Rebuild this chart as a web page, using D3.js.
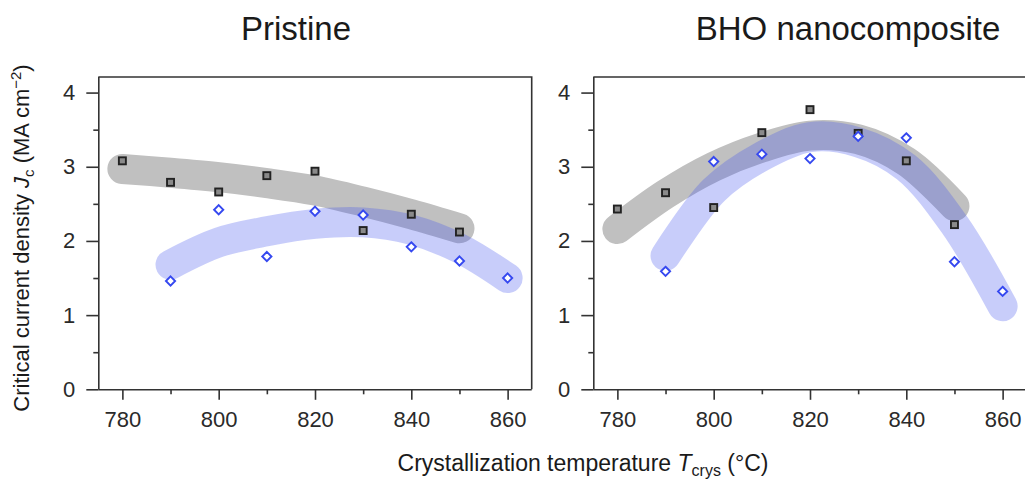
<!DOCTYPE html>
<html>
<head>
<meta charset="utf-8">
<script src="https://cdn.jsdelivr.net/npm/d3@7"></script>
<style>
  html, body { margin: 0; padding: 0; background: #fff; }
  svg { display: block; font-family: "Liberation Sans", Arial, Helvetica, sans-serif; }
</style>
</head>
<body>
<svg id="chart" width="1025" height="481"></svg>
<script>
// Crystallization temperatures (°C)
const tempsSquare = [780, 790, 800, 810, 820, 830, 840, 850];
const tempsDiamond = [790, 800, 810, 820, 830, 840, 850, 860];

// Pristine films: Jc (MA cm^-2)
const pristineSquares = [3.08, 2.79, 2.66, 2.88, 2.94, 2.14, 2.36, 2.12];
const pristineDiamonds = [1.46, 2.42, 1.79, 2.40, 2.35, 1.92, 1.73, 1.50];
// Guide-to-the-eye trends for the pristine films
const pristineTrendGray = [2.97, 2.92, 2.86, 2.78, 2.68, 2.53, 2.36, 2.17];
const pristineTrendBlue = [1.68, 1.98, 2.13, 2.23, 2.25, 2.15, 1.90, 1.50];

// BHO nanocomposite films: Jc (MA cm^-2)
const bhoSquares = [2.43, 2.65, 2.45, 3.46, 3.77, 3.45, 3.08, 2.22];
const bhoDiamonds = [1.59, 3.07, 3.17, 3.11, 3.41, 3.39, 1.72, 1.32];
// Guide-to-the-eye trends for the nanocomposite films
const bhoTrendGray = [2.16, 2.63, 3.00, 3.26, 3.42, 3.37, 3.07, 2.47];
const bhoTrendBlue = [1.80, 2.68, 3.14, 3.40, 3.33, 2.99, 2.22, 1.12];

const panelTitles = ["Pristine", "BHO nanocomposite"];
const xMajorTicks = [780, 800, 820, 840, 860];
const xMinorTicks = [790, 810, 830, 850];
const yMajorTicks = [0, 1, 2, 3, 4];
const yMinorTicks = [0.5, 1.5, 2.5, 3.5];

const svg = d3.select("#chart");
const axisColor = "#333";
const textColor = "#1a1a1a";

const plotTop = 77, plotBottom = 389.3, panelWidth = 433.4;
const panelLefts = [98.3, 593.3];

const y = d3.scaleLinear().domain([0, 4.21]).range([plotBottom, plotTop]);

const panels = [
  { title: panelTitles[0], squares: pristineSquares, diamonds: pristineDiamonds,
    gray: pristineTrendGray, blue: pristineTrendBlue },
  { title: panelTitles[1], squares: bhoSquares, diamonds: bhoDiamonds,
    gray: bhoTrendGray, blue: bhoTrendBlue }
];

panels.forEach((p, i) => {
  const left = panelLefts[i];
  const x = d3.scaleLinear().domain([775, 865]).range([left, left + panelWidth]);
  const g = svg.append("g");

  const line = d3.line().x(d => x(d[0])).y(d => y(d[1])).curve(d3.curveCatmullRom.alpha(0.5));

  // broad trend bands
  g.append("path")
    .datum(tempsSquare.map((t, k) => [t, p.gray[k]]))
    .attr("d", line)
    .attr("fill", "none")
    .attr("stroke", "#c0c0c0")
    .attr("stroke-width", 30)
    .attr("stroke-linecap", "round")
    .attr("stroke-linejoin", "round");

  g.append("path")
    .datum(tempsDiamond.map((t, k) => [t, p.blue[k]]))
    .attr("d", line)
    .attr("fill", "none")
    .attr("stroke", "rgb(65,83,238)")
    .attr("stroke-opacity", 0.29)
    .attr("stroke-width", 30)
    .attr("stroke-linecap", "round")
    .attr("stroke-linejoin", "round");

  // frame (top and right edges)
  g.append("path")
    .attr("d", `M${left},${plotTop}H${left + panelWidth}V${plotBottom}`)
    .attr("fill", "none")
    .attr("stroke", axisColor)
    .attr("stroke-width", 1.6);

  // y axis
  const yAxis = g.append("g").attr("transform", `translate(${left},0)`)
    .call(d3.axisLeft(y).tickValues(yMajorTicks).tickSize(12).tickPadding(11).tickFormat(d3.format("d")));
  g.append("g").attr("transform", `translate(${left},0)`)
    .call(d3.axisLeft(y).tickValues(yMinorTicks).tickSize(5).tickFormat(""))
    .call(s => s.select(".domain").remove());

  // x axis
  const xAxis = g.append("g").attr("transform", `translate(0,${plotBottom})`)
    .call(d3.axisBottom(x).tickValues(xMajorTicks).tickSize(10.5).tickPadding(12).tickFormat(d3.format("d")));
  g.append("g").attr("transform", `translate(0,${plotBottom})`)
    .call(d3.axisBottom(x).tickValues(xMinorTicks).tickSize(5).tickFormat(""))
    .call(s => s.select(".domain").remove());

  g.selectAll(".domain").attr("stroke", axisColor).attr("stroke-width", 1.6);
  g.selectAll(".tick line").attr("stroke", axisColor).attr("stroke-width", 1.6);
  g.selectAll(".tick text")
    .attr("fill", "#2a2a2a")
    .style("font-size", "22px")
    .style("font-family", "\"Liberation Sans\", Arial, sans-serif");
  xAxis.selectAll(".domain").attr("d", `M${left},0.5H${left + panelWidth}`);
  yAxis.selectAll(".domain").attr("d", `M0.5,${plotBottom}V${plotTop}`);

  // square markers
  g.append("g").selectAll("rect")
    .data(tempsSquare.map((t, k) => [t, p.squares[k]]))
    .join("rect")
    .attr("x", d => x(d[0]) - 3.5)
    .attr("y", d => y(d[1]) - 3.5)
    .attr("width", 7)
    .attr("height", 7)
    .attr("fill", "#8a8a8a")
    .attr("stroke", "#222")
    .attr("stroke-width", 1.9);

  // diamond markers
  g.append("g").selectAll("path")
    .data(tempsDiamond.map((t, k) => [t, p.diamonds[k]]))
    .join("path")
    .attr("transform", d => `translate(${x(d[0])},${y(d[1])})`)
    .attr("d", "M0,-4.6L4.6,0L0,4.6L-4.6,0Z")
    .attr("fill", "#fff")
    .attr("stroke", "#3548f0")
    .attr("stroke-width", 1.9);

  // panel title
  svg.append("text")
    .attr("x", i === 0 ? 296 : 848)
    .attr("y", 40)
    .attr("text-anchor", "middle")
    .attr("fill", textColor)
    .style("font-size", "33px")
    .text(p.title);
});

// shared x-axis title
const xt = svg.append("text")
  .attr("x", 583)
  .attr("y", 471)
  .attr("text-anchor", "middle")
  .attr("fill", textColor)
  .style("font-size", "23px");
xt.append("tspan").text("Crystallization temperature ");
xt.append("tspan").style("font-style", "italic").text("T");
xt.append("tspan").attr("dy", 5).style("font-size", "16px").text("crys");
xt.append("tspan").attr("dy", -5).text(" (°C)");

// y-axis title
const yt = svg.append("text")
  .attr("transform", "translate(29,238) rotate(-90)")
  .attr("text-anchor", "middle")
  .attr("fill", textColor)
  .style("font-size", "22px");
yt.append("tspan").text("Critical current density ");
yt.append("tspan").style("font-style", "italic").text("J");
yt.append("tspan").attr("dy", 5).style("font-size", "15px").text("c");
yt.append("tspan").attr("dy", -5).text(" (MA cm");
yt.append("tspan").attr("dy", -8).style("font-size", "15px").text("−2");
yt.append("tspan").attr("dy", 8).text(")");
</script>
</body>
</html>
